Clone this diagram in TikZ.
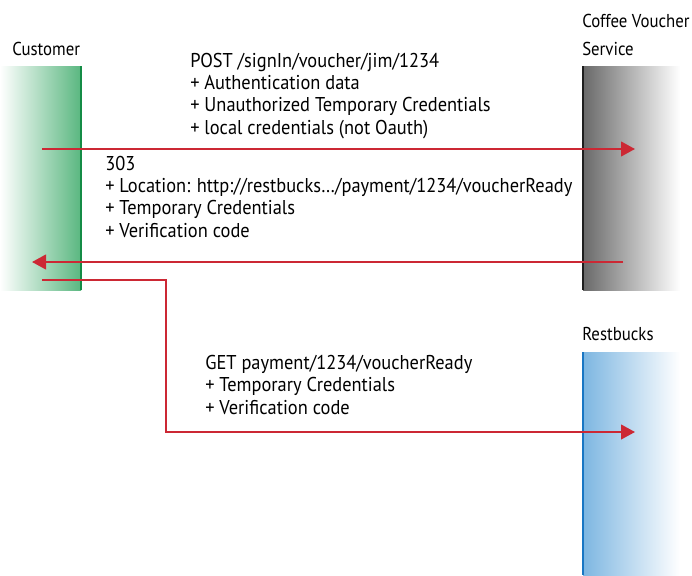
\documentclass[tikz,border=0pt]{standalone}
\usepackage{fontspec}
\setmainfont{PT Sans}[FakeStretch=0.92]
\newfontfamily\lanefont{PT Sans}[FakeStretch=0.9]
\usetikzlibrary{arrows.meta}
\definecolor{arrowred}{RGB}{204,40,52}
\definecolor{custfill}{RGB}{90,183,128}
\definecolor{custline}{RGB}{20,140,70}
\definecolor{cvsfill}{RGB}{105,105,105}
\definecolor{cvsline}{RGB}{30,30,30}
\definecolor{rbfill}{RGB}{125,182,225}
\definecolor{rbline}{RGB}{25,118,195}
\begin{document}
\begin{tikzpicture}[x=0.75pt,y=-0.75pt,
  msg/.style={draw=arrowred, line width=1.6pt, -{Triangle[length=10.5pt,width=11pt]}},
  txt/.style={anchor=base west, inner sep=0pt, font=\fontsize{15}{16.7}\selectfont, align=left},
  lane/.style={anchor=base west, inner sep=0pt, font=\lanefont\fontsize{14}{21}\selectfont, align=left},
  laneline/.style={line width=1.5pt}]
\useasboundingbox (0,0) rectangle (692,575);
% lifeline bars
\shade[left color=white, right color=custfill] (0,66) rectangle (81,290);
\draw[laneline, custline] (81,66) -- (81,290);
\shade[left color=cvsfill, right color=white] (583,66) rectangle (680,290);
\draw[laneline, cvsline] (583,66) -- (583,290);
\shade[left color=rbfill, right color=white] (583,352) rectangle (680,575);
\draw[laneline, rbline] (583,352) -- (583,575);
% lane labels (anchor = baseline of the last line)
\node[lane] (cust) at (12,55) {Customer};
\node[lane] (cvs) at (582,55) {Coffee Voucher\\Service};
\node[lane] (rb) at (582,340) {Restbucks};
% message texts (anchor = baseline of the last line)
\node[txt] (m1) at (190,134) {POST /signIn/voucher/jim/1234\\+ Authentication data\\+ Unauthorized Temporary Credentials\\+ local credentials (not Oauth)};
\node[txt] (m2) at (105,237) {303\\+ Location: http://restbucks\dots/payment/1234/voucherReady\\+ Temporary Credentials\\+ Verification code};
\node[txt] (m3) at (205,414) {GET payment/1234/voucherReady\\+ Temporary Credentials\\+ Verification code};
% connector end points
\coordinate (a1s) at (42,149);
\coordinate (a1e) at (635,149);
\coordinate (a2s) at (623,262);
\coordinate (a2e) at (32,262);
\coordinate (a3s) at (42,280);
\coordinate (a3c) at (166,432);
\coordinate (a3e) at (635,432);
\draw[msg] (a1s) -- (a1e);
\draw[msg] (a2s) -- (a2e);
\draw[msg] (a3s) -| (a3c) -- (a3e);
\end{tikzpicture}
\end{document}
